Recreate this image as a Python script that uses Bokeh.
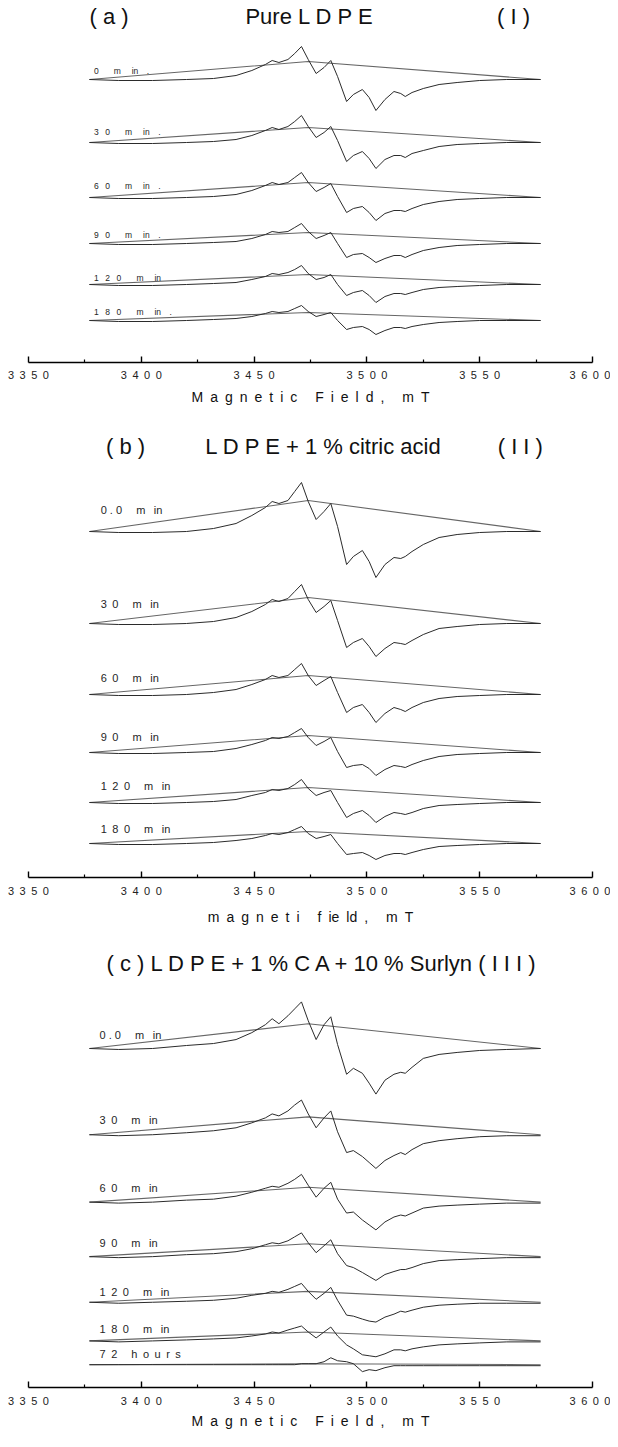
from bokeh.plotting import figure
from bokeh.layouts import column
from bokeh.models import Range1d, FixedTicker, Label
from bokeh.embed import file_html
from bokeh.resources import INLINE

EN = "\u2002"   # en space (wide letter spacing of the original)
EM = "\u2003"   # em space

# ---------------- data ----------------
FIELD = [3377, 3390, 3405, 3420, 3432, 3442, 3449, 3455, 3458, 3461, 3465, 3468, 3471, 3474,
         3477.5, 3481, 3484, 3487, 3491, 3494, 3498, 3501, 3504, 3508, 3512, 3515, 3517, 3520,
         3525, 3532, 3540, 3550, 3562, 3577]
BASE_FIELD = [3377, 3474, 3577]
TICKS = [3350, 3400, 3450, 3500, 3550, 3600]
MINOR_TICKS = [3375, 3425, 3475, 3525, 3575]
TICK_TEXT = {t: EN.join(str(t)) for t in TICKS}

# panel (a) Pure LDPE
A_0 = [0, -1, -1, 0, 1, 4, 9, 15, 19, 17, 20, 26, 33, 20, 6, 12, 19, 3, -22, -15, -10, -18, -31, -20, -12, -14, -17, -13, -9, -5, -3, -1, 0, 0]
A_30 = [0, -1, -1, 0, 1, 3, 7, 12, 15, 13, 16, 21, 27, 16, 5, 10, 16, 2, -19, -13, -9, -16, -26, -17, -13, -13, -15, -11, -8, -4, -2, -1, 0, 0]
A_60 = [0, -1, -1, 0, 1, 3, 7, 12, 15, 13, 15, 20, 25, 15, 6, 10, 14, 1, -15, -11, -9, -15, -23, -16, -13, -13, -14, -11, -7, -4, -2, -1, 0, 0]
A_90 = [0, -1, -1, 0, 1, 2, 5, 9, 12, 11, 12, 16, 20, 12, 5, 8, 11, 0, -14, -11, -10, -14, -19, -15, -12, -12, -14, -11, -7, -4, -2, -1, 0, 0]
A_120 = [0, -1, -1, 0, 1, 2, 5, 8, 11, 10, 12, 15, 19, 11, 5, 7, 10, 0, -11, -8, -6, -11, -18, -12, -9, -9, -10, -8, -5, -3, -2, -1, 0, 0]
A_180 = [0, -1, -1, 0, 1, 2, 4, 7, 9, 8, 9, 12, 15, 9, 4, 6, 8, 0, -9, -7, -6, -9, -14, -10, -7, -7, -8, -6, -4, -2, -1, 0, 0, 0]
A_APEX = [18, 15, 15, 11, 10, 8]
A_TIMES = ["0", "30", "60", "90", "120", "180"]
A_DOT = [True, True, True, True, False, True]

# panel (b) LDPE + 1 % citric acid
B_0 = [0, -1, -1, 0, 3, 8, 16, 24, 30, 28, 31, 40, 49, 30, 12, 20, 28, 5, -33, -25, -19, -30, -46, -33, -26, -27, -25, -20, -13, -6, -3, -1, 0, 0]
B_30 = [0, -1, -1, 0, 2, 6, 12, 19, 24, 22, 25, 32, 39, 24, 11, 17, 23, 3, -24, -19, -15, -23, -33, -25, -19, -20, -21, -17, -11, -5, -3, -1, 0, 0]
B_60 = [0, -1, -1, 0, 2, 5, 10, 15, 19, 17, 19, 25, 31, 19, 9, 14, 18, 2, -18, -13, -10, -18, -28, -19, -13, -15, -17, -13, -8, -4, -2, -1, 0, 0]
B_90 = [0, -1, -1, 0, 1, 4, 8, 12, 15, 14, 16, 20, 24, 15, 7, 11, 15, 1, -15, -13, -12, -16, -23, -17, -13, -14, -15, -12, -8, -4, -2, -1, 0, 0]
B_120 = [0, -1, -1, 0, 1, 3, 7, 10, 13, 12, 14, 18, 23, 14, 7, 10, 12, 0, -15, -11, -8, -13, -20, -14, -10, -11, -12, -10, -6, -3, -2, -1, 0, 0]
B_180 = [0, -1, -1, 0, 1, 3, 5, 8, 10, 9, 11, 14, 17, 10, 5, 7, 9, 0, -11, -10, -9, -12, -16, -12, -10, -10, -11, -9, -6, -3, -2, -1, 0, 0]
B_APEX = [31, 26, 19, 17, 15, 12]
B_TIMES = ["0.0", "30", "60", "90", "120", "180"]

# panel (c) LDPE + 1 % CA + 10 % Surlyn
C_0 = [0, -1, 0, 3, 5, 9, 16, 24, 30, 25, 33, 40, 47, 28, 9, 24, 32, 4, -26, -20, -25, -35, -46, -32, -26, -24, -25, -19, -10, -6, -4, -2, -1, 0]
C_30 = [0, -1, 0, 2, 4, 7, 12, 17, 21, 19, 24, 30, 35, 21, 7, 17, 24, 3, -18, -16, -22, -28, -34, -26, -21, -18, -20, -15, -9, -6, -4, -2, -1, -1]
C_60 = [0, -1, 0, 2, 3, 6, 10, 14, 16, 15, 19, 23, 28, 17, 5, 14, 20, 3, -11, -10, -18, -23, -28, -20, -15, -13, -14, -11, -6, -4, -3, -2, -1, -1]
C_90 = [0, -1, 0, 2, 3, 5, 8, 12, 14, 13, 16, 20, 24, 14, 4, 11, 17, 3, -9, -11, -16, -20, -24, -18, -15, -13, -13, -11, -7, -4, -3, -2, -1, -1]
C_120 = [0, -1, 0, 1, 2, 4, 7, 9, 11, 10, 13, 16, 19, 11, 3, 9, 15, 2, -13, -14, -17, -19, -20, -15, -12, -9, -10, -8, -5, -3, -2, -1, -1, -1]
C_180 = [0, -1, 0, 1, 2, 3, 5, 7, 9, 8, 11, 13, 15, 9, 3, 9, 14, 5, -4, -8, -14, -15, -16, -13, -9, -9, -10, -8, -6, -4, -3, -2, -1, -1]
C_72H = [0, 0, 0, 0, 0, 0, 0, 0, 0, 0, 0, 0, 1, 1, 1, 3, 7, 4, 3, 1, -7, -5, -6, -3, -1, -1, -1, -1, -1, -1, -1, -1, -1, -1]
C_APEX = [25, 18, 15, 13, 11, 9, 1]
C_TIMES = ["0.0", "30", "60", "90", "120", "180", "72"]


# ---------------- text helpers (spacing only) ----------------
def a_name(t, dot):
    s = (EN + " ").join(t) + EM + EN + " m" + EM + " in"
    return s + EM + "." if dot else s


def bc_name(t, unit="min"):
    num = " ".join(t) if "." in t else EN.join(t)
    if unit == "min":
        return num + EM + " m" + EN + " in"
    return num + EM + " " + EN.join("hours")


WG = EN + EN + " "
XLABEL_A = EN.join("Magnetic") + WG + EN.join("Field,") + WG + "m" + EN + "T"
XLABEL_B = EN.join("magneti") + WG + "f" + EN + "ie" + EN + "ld" + EN + "," + WG + "m" + EN + "T"

A_NAMES = [a_name(t, d) for t, d in zip(A_TIMES, A_DOT)]
B_NAMES = [bc_name(t) for t in B_TIMES]
C_NAMES = [bc_name(t) for t in C_TIMES[:-1]] + [bc_name(C_TIMES[-1], "hours")]

# ---------------- layout (page pixels) ----------------
FONT = "Liberation Sans"
TRACE_COLOR = "#2b2b2b"
BASE_COLOR = "#666666"

PANELS = [
    dict(top=8, height=422, axis=370, tick_gap=6, label_gap=5,
         traces=[A_0, A_30, A_60, A_90, A_120, A_180], apex=A_APEX, names=A_NAMES, name_size=8.5,
         offsets=[87, 150, 205, 251, 292, 328], name_y=[78, 139, 193, 242, 285, 319], name_x=3379,
         titles=[("( a )", 3385.7, 24), ("Pure L D P E", 3474.6, 24), ("( I )", 3565, 24)],
         xlabel=XLABEL_A),
    dict(top=430, height=511, axis=885, tick_gap=7, label_gap=9,
         traces=[B_0, B_30, B_60, B_90, B_120, B_180], apex=B_APEX, names=B_NAMES, name_size=11,
         offsets=[539, 631, 702, 760, 810, 851], name_y=[517, 611, 685, 744, 793, 836], name_x=3382,
         titles=[("( b )", 3393, 454), ("L D P E + 1 % citric acid", 3480.8, 454), ("( I I )", 3568, 454)],
         xlabel=XLABEL_B),
    dict(top=941, height=498, axis=1399, tick_gap=7, label_gap=3,
         traces=[C_0, C_30, C_60, C_90, C_120, C_180, C_72H], apex=C_APEX, names=C_NAMES, name_size=11,
         offsets=[1057, 1144, 1212, 1267, 1313, 1352, 1376], name_y=[1043, 1129, 1198, 1253, 1303, 1340, 1365], name_x=3381.5,
         titles=[("( c )  L D P E + 1 % C A + 10 % Surlyn  ( I I I )", 3483.2, 971)],
         xlabel=XLABEL_A),
]


def make_panel(cfg):
    frame_h = cfg["axis"] - cfg["top"]
    p = figure(width=610, height=cfg["height"], title=None,
               x_range=Range1d(TICKS[0], TICKS[-1]),
               y_range=Range1d(-cfg["axis"], -cfg["top"]),
               output_backend="svg", toolbar_location=None,
               y_axis_location=None,
               min_border_left=28, min_border_right=18, min_border_top=0,
               min_border_bottom=cfg["height"] - frame_h)
    p.outline_line_color = None
    p.xgrid.visible = False
    p.ygrid.visible = False
    p.background_fill_color = "white"
    p.border_fill_color = "white"

    for vals, apex, off in zip(cfg["traces"], cfg["apex"], cfg["offsets"]):
        p.line(BASE_FIELD, [-off, -off + apex, -off], line_color=BASE_COLOR, line_width=1.1)
        p.line(FIELD, [v - off for v in vals], line_color=TRACE_COLOR, line_width=1)

    for name, ny in zip(cfg["names"], cfg["name_y"]):
        p.add_layout(Label(x=cfg["name_x"], y=-ny, text=name, text_font=FONT,
                           text_font_size=f"{cfg['name_size']}px", text_color="#262626",
                           text_align="left", text_baseline="middle"))

    for txt, tx, ty in cfg["titles"]:
        p.add_layout(Label(x=tx, y=-ty, text=txt, text_font=FONT,
                           text_font_size="22px", text_color="#111111",
                           text_align="center", text_baseline="middle"))

    ax = p.xaxis[0]
    ax.ticker = FixedTicker(ticks=TICKS, minor_ticks=MINOR_TICKS)
    ax.major_label_overrides = TICK_TEXT
    ax.major_label_text_font = FONT
    ax.major_label_text_font_size = "11px"
    ax.major_label_text_color = "#222222"
    ax.major_label_standoff = cfg["tick_gap"]
    ax.major_tick_in = 6
    ax.major_tick_out = 0
    ax.minor_tick_in = 3
    ax.minor_tick_out = 0
    ax.axis_line_width = 1.6
    ax.axis_line_color = "black"
    ax.major_tick_line_color = "black"
    ax.major_tick_line_width = 1.4
    ax.minor_tick_line_color = "black"
    ax.minor_tick_line_width = 1.2
    ax.axis_label = cfg["xlabel"]
    ax.axis_label_text_font = FONT
    ax.axis_label_text_font_style = "normal"
    ax.axis_label_text_font_size = "14px"
    ax.axis_label_text_color = "#111111"
    ax.axis_label_standoff = cfg["label_gap"]
    return p


layout = column(*[make_panel(c) for c in PANELS], spacing=0)

with open("out.html", "w") as f:
    f.write(file_html(layout, INLINE))
